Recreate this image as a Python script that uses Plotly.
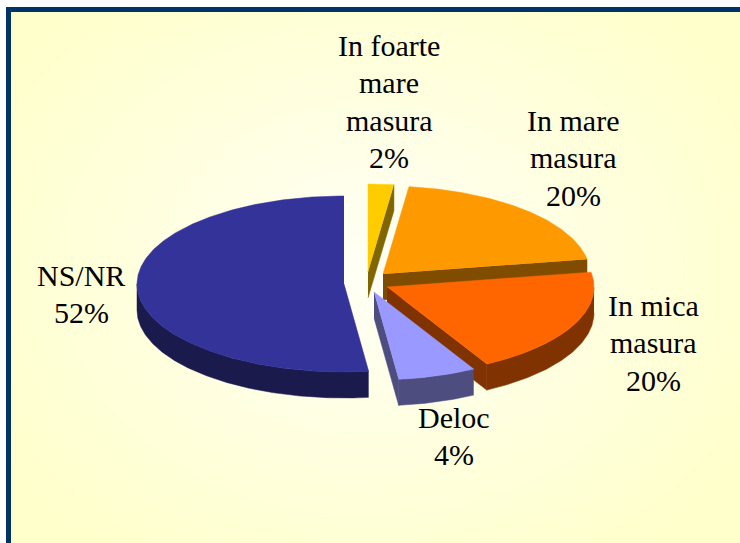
import numpy as np
import plotly.graph_objects as go

# ---- data ----
categories = ["In foarte mare masura", "In mare masura", "In mica masura", "Deloc", "NS/NR"]
shown_percent = ["2%", "20%", "20%", "4%", "52%"]
slice_shares = [2.0, 20.3, 19.7, 6.1, 51.9]   # drawn size of each slice

# ---- styling / layout ----
top_colors = ["#FFCC00", "#FF9900", "#FF6600", "#9999FF", "#333399"]
side_colors = ["#806600", "#804D00", "#803300", "#4D4D80", "#1A1A4D"]
centers = [(368, 272), (383, 274), (387, 287), (374, 292), (344, 284)]
RX, RY, DEPTH = 207, 88, 26
label_lines = [
    ["In foarte", "mare", "masura"], ["In mare", "masura"], ["In mica", "masura"], ["Deloc"], ["NS/NR"],
]
label_first_line = [(389, 45.5), (573, 120.5), (653, 305.5), (454, 417.5), (81, 275.5)]
LINE_GAP = 37.4
W, H = 740, 543


def point(c, deg, dy=0):
    t = np.radians(deg)
    return c[0] + RX * np.sin(t), c[1] - RY * np.cos(t) + dy


def arc(c, a, b, dy=0):
    ts = np.linspace(a, b, max(2, int(abs(b - a) * 2) + 1))
    return point(c, ts, dy)


fig = go.Figure()


def poly(xs, ys, color):
    fig.add_trace(go.Scatter(
        x=list(xs), y=list(ys), mode="lines", fill="toself", fillcolor=color,
        line=dict(color=color, width=0.5), hoverinfo="skip", showlegend=False))


edges = np.concatenate([[0], np.cumsum(slice_shares)]) / sum(slice_shares) * 360
slices = list(zip(range(5), edges[:-1], edges[1:]))

for i, a, b in [slices[0], slices[1], slices[4], slices[2], slices[3]]:
    c = centers[i]
    # cut faces that look toward the viewer
    for ang in ([b] if i in (0, 1, 2, 3) else []):
        ex, ey = point(c, ang)
        poly([c[0], ex, ex, c[0]], [c[1], ey, ey + DEPTH, c[1] + DEPTH], side_colors[i])
    # outer wall
    lo, hi = max(a, 90), min(b, 270)
    if hi > lo:
        x1, y1 = arc(c, lo, hi)
        x2, y2 = arc(c, hi, lo, DEPTH)
        poly(np.r_[x1, x2], np.r_[y1, y2], side_colors[i])
    # top face
    x, y = arc(c, a, b)
    poly(np.r_[c[0], x], np.r_[c[1], y], top_colors[i])

# background: soft radial glow plus the frame
shapes = [dict(type="rect", xref="x", yref="y", x0=0, x1=W, y0=0, y1=H,
               fillcolor="#FFFFCC", line_width=0, layer="below")]
steps = 40
for k in range(steps):
    f = 1 - k / steps
    blue = int(round(204 + (245 - 204) * (k + 1) / steps))
    shapes.append(dict(type="circle", xref="x", yref="y",
                       x0=370 - 430 * f, x1=370 + 430 * f, y0=270 - 340 * f, y1=270 + 340 * f,
                       fillcolor=f"rgb(255,255,{blue})", line_width=0, layer="below"))
shapes += [
    dict(type="rect", xref="x", yref="y", x0=0, x1=W, y0=0, y1=7, fillcolor="white", line_width=0, layer="below"),
    dict(type="rect", xref="x", yref="y", x0=0, x1=6, y0=0, y1=H, fillcolor="white", line_width=0, layer="below"),
    dict(type="rect", xref="x", yref="y", x0=6, x1=W, y0=7, y1=12, fillcolor="#003366", line_width=0, layer="below"),
    dict(type="rect", xref="x", yref="y", x0=6, x1=11, y0=7, y1=H, fillcolor="#003366", line_width=0, layer="below"),
]

annotations = []
for lines, pct, (lx, ly) in zip(label_lines, shown_percent, label_first_line):
    for n, line in enumerate(lines + [pct]):
        annotations.append(dict(
            x=lx, y=ly + n * LINE_GAP, xref="x", yref="y", text=line, showarrow=False,
            xanchor="center", yanchor="middle",
            font=dict(family="Liberation Serif", size=30, color="black")))

fig.update_layout(
    width=W, height=H, margin=dict(l=0, r=0, t=0, b=0),
    paper_bgcolor="white", plot_bgcolor="white", showlegend=False,
    xaxis=dict(range=[0, W], visible=False, fixedrange=True),
    yaxis=dict(range=[H, 0], visible=False, fixedrange=True),
    shapes=shapes, annotations=annotations,
)
fig.write_html("out.html", config={"displayModeBar": False},
               post_script="document.body.style.margin='0';document.body.style.overflow='hidden';")
